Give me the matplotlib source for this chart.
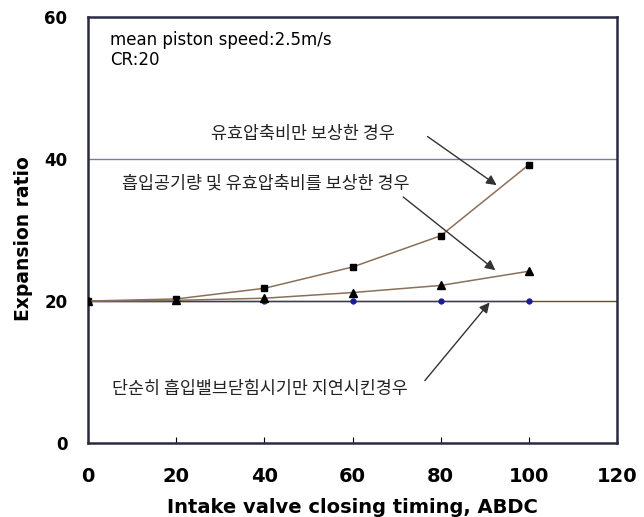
import matplotlib.pyplot as plt

plt.rcParams['font.family'] = ['DejaVu Sans', 'Noto Sans CJK KR']

# data
ivc_timing = [0, 20, 40, 60, 80, 100]
ecr_only = [20.0, 20.3, 21.8, 24.8, 29.2, 39.2]          # squares
air_and_ecr = [20.0, 20.1, 20.4, 21.2, 22.2, 24.2]       # triangles
ivc_delay_only = [20.0, 20.0, 20.0, 20.0, 20.0, 20.0]    # blue dots

x_ticks = [0, 20, 40, 60, 80, 100, 120]
y_ticks = [0, 20, 40, 60]

label_ecr = "유효압축비만 보상한 경우"
label_air = "흡입공기량 및 유효압축비를 보상한 경우"
label_delay = "단순히 흡입밸브닫힘시기만 지연시킨경우"
note = "mean piston speed:2.5m/s\nCR:20"

fig = plt.figure(figsize=(6.44, 5.17), dpi=100)
ax = fig.add_axes([0.137, 0.143, 0.821, 0.824])

ax.axhline(40, color="#7c7c98", linewidth=1.0, zorder=1)
ax.axhline(20, color="#5e5030", linewidth=1.0, zorder=1)

line_color = "#8a705a"
ax.plot(ivc_timing, ecr_only, color=line_color, linewidth=1.1,
        marker="s", markersize=4.5, markerfacecolor="black", markeredgecolor="black", zorder=3)
ax.plot(ivc_timing, air_and_ecr, color=line_color, linewidth=1.1,
        marker="^", markersize=5.5, markerfacecolor="black", markeredgecolor="black", zorder=3)
ax.plot(ivc_timing, ivc_delay_only, color="#3a3a70", linewidth=1.0,
        marker="o", markersize=3.5, markerfacecolor="#1a1a9a", markeredgecolor="#1a1a9a", zorder=2)

ax.set_xlim(0, 120)
ax.set_ylim(0, 60)
ax.set_xticks(x_ticks)
ax.set_yticks(y_ticks)
ax.tick_params(axis="x", direction="in", length=4, pad=17, labelsize=14)
ax.tick_params(axis="y", direction="in", length=0, pad=15, labelsize=12)
for lbl in ax.get_xticklabels() + ax.get_yticklabels():
    lbl.set_fontweight("bold")

for sp in ax.spines.values():
    sp.set_linewidth(1.8)
    sp.set_color("#2a2a40")

ax.set_xlabel("Intake valve closing timing, ABDC", fontsize=14, fontweight="bold", labelpad=9)
ax.set_ylabel("Expansion ratio", fontsize=13.5, fontweight="bold")
ax.yaxis.set_label_coords(-0.104, 0.479)

ax.text(5, 58.0, note, fontsize=12, va="top", ha="left", linespacing=1.1)

arrow = dict(arrowstyle="-|>", color="#333333", linewidth=1.0, mutation_scale=15)
kor = dict(fontsize=12.5, color="#222222", ha="center", va="center",
           family=["Noto Sans CJK KR", "DejaVu Sans"])

ax.text(48.7, 43.6, label_ecr, **kor)
ax.annotate("", xy=(93.2, 36.1), xytext=(76.5, 43.4), arrowprops=arrow)

ax.text(40.2, 36.5, label_air, **kor)
ax.annotate("", xy=(92.9, 24.1), xytext=(71.0, 34.9), arrowprops=arrow)

ax.text(39.0, 7.6, label_delay, **kor)
ax.annotate("", xy=(91.5, 20.1), xytext=(76.0, 8.5), arrowprops=arrow)

fig.savefig("out.png", dpi=100)
